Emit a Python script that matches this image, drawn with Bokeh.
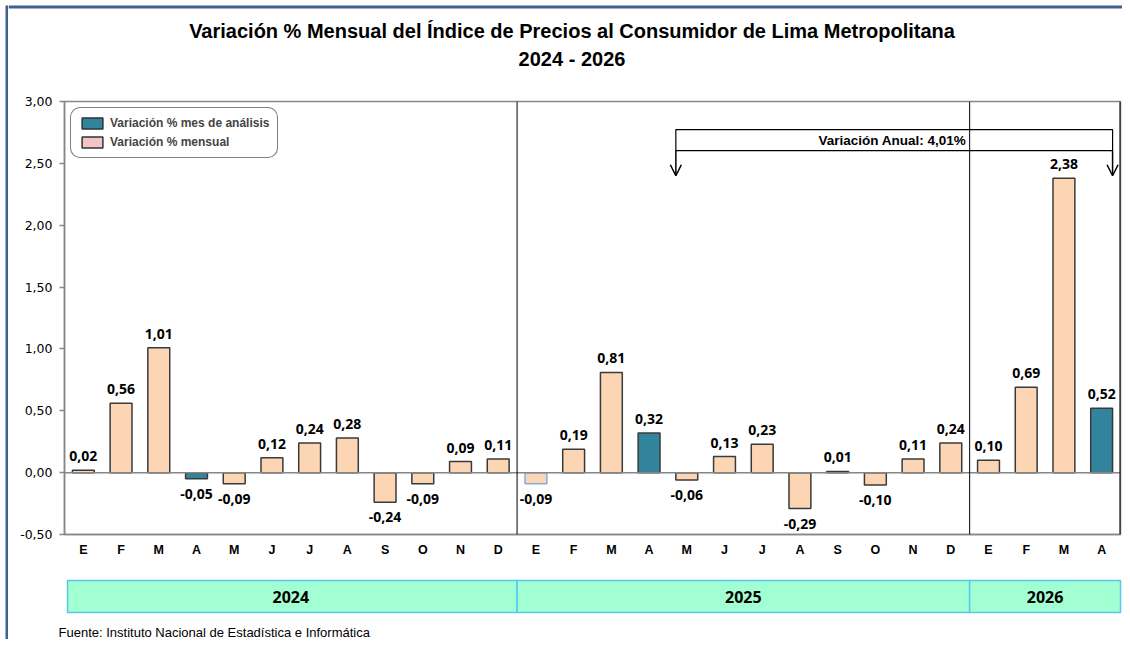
from bokeh.plotting import figure
from bokeh.layouts import row, column
from bokeh.models import (Range1d, FixedTicker, Span, Arrow, OpenHead, Legend, LegendItem,
                          ColumnDataSource, CustomJSTickFormatter)
from bokeh.core.properties import value
from bokeh.embed import file_html
from bokeh.resources import INLINE

# ---------------- data ----------------
months = ["E", "F", "M", "A", "M", "J", "J", "A", "S", "O", "N", "D"]
years = ["2024", "2025", "2026"]
months_per_year = [12, 12, 4]
values_2024 = [0.02, 0.56, 1.01, -0.05, -0.09, 0.12, 0.24, 0.28, -0.24, -0.09, 0.09, 0.11]
values_2025 = [-0.09, 0.19, 0.81, 0.32, -0.06, 0.13, 0.23, -0.29, 0.01, -0.10, 0.11, 0.24]
values_2026 = [0.10, 0.69, 2.38, 0.52]
analysis_month_index = 3  # April
y_ticks = [-0.5, 0.0, 0.5, 1.0, 1.5, 2.0, 2.5, 3.0]
legend_labels = ["Variación % mes de análisis", "Variación % mensual"]
annual_label = "Variación Anual:  4,01%"
title_line1 = "Variación % Mensual del Índice de Precios al Consumidor de Lima Metropolitana"
title_line2 = "2024 - 2026"
source_note = "Fuente: Instituto  Nacional de Estadística  e Informática"

# ---------------- styles ----------------
TEAL = "#31849B"
PEACH = "#FCD5B5"
PINK = "#F2C4C4"
GRAY = "#868686"
BAND_FILL = "#A2FFD2"
BAND_LINE = "#56C6F2"
FRAME_BLUE = "#3E6192"
FONT = "Liberation Sans"

values = values_2024 + values_2025 + values_2026
month_labels = []
month_idx = []
for n in months_per_year:
    month_labels += months[:n]
    month_idx += list(range(n))
N = len(values)
xs = [i + 0.5 for i in range(N)]
fills = [TEAL if m == analysis_month_index else PEACH for m in month_idx]
lines = ["#3a3a3a"] * N
lines[12] = "#8EA9DB"
texts = [("%.2f" % v).replace(".", ",") for v in values]
offs = [-14 if v >= 0 else 15 for v in values]

src = ColumnDataSource(dict(x=xs, top=values, fill=fills, line=lines, label=texts, off=offs))


def no_align(fig):
    if "frame_align" in fig.properties():
        fig.frame_align = False
    return fig


def panel(width, height, x_range, y_range):
    fig = figure(width=width, height=height, output_backend="svg", toolbar_location=None,
                 x_range=x_range, y_range=y_range,
                 x_axis_location=None, y_axis_location=None,
                 min_border=0, min_border_left=0, min_border_right=0,
                 min_border_top=0, min_border_bottom=0)
    fig.xgrid.visible = False
    fig.ygrid.visible = False
    fig.outline_line_color = None
    fig.background_fill_color = "white"
    fig.border_fill_color = "white"
    return no_align(fig)


# ---------------- left frame strip ----------------
strip = panel(8, 639, Range1d(0, 8), Range1d(639, 0))
strip.quad(left=[5], right=[8], top=[5], bottom=[639], fill_color=FRAME_BLUE, line_color=None)

# ---------------- title panel ----------------
tp = panel(1114, 90, Range1d(8, 1122), Range1d(90, 0))
tp.quad(left=[8], right=[1122], top=[5], bottom=[8], fill_color=FRAME_BLUE, line_color=None)
tp.text(x=[571.5, 571.5], y=[30, 58], text=[title_line1, title_line2],
        text_align="center", text_baseline="middle",
        text_font=value(FONT), text_font_style="bold", text_font_size="20px",
        text_color="black")

# ---------------- main chart ----------------
p = figure(width=1114, height=476, output_backend="svg", toolbar_location=None,
           x_range=Range1d(0, N), y_range=Range1d(-0.5, 3.0),
           min_border_left=56, min_border_right=2, min_border_top=11, min_border_bottom=32)
no_align(p)
p.background_fill_color = "white"
p.border_fill_color = "white"
p.outline_line_color = GRAY
p.outline_line_width = 1.5
p.xgrid.visible = False
p.ygrid.visible = False

p.yaxis.ticker = FixedTicker(ticks=y_ticks)
p.yaxis.formatter = CustomJSTickFormatter(code="return tick.toFixed(2).replace('.', ',');")
p.yaxis.axis_line_color = GRAY
p.yaxis.axis_line_width = 1.5
p.yaxis.major_tick_line_color = GRAY
p.yaxis.major_tick_line_width = 1.5
p.yaxis.major_tick_out = 5
p.yaxis.major_tick_in = 0
p.yaxis.minor_tick_line_color = None
p.yaxis.major_label_standoff = 7
p.yaxis.major_label_text_font = "DejaVu Sans"
p.yaxis.major_label_text_font_size = "12.5px"
p.yaxis.major_label_text_color = "black"

p.xaxis.ticker = FixedTicker(ticks=xs)
p.xaxis.formatter = CustomJSTickFormatter(args=dict(labels=month_labels),
                                          code="return labels[Math.floor(tick)];")
p.xaxis.axis_line_color = GRAY
p.xaxis.axis_line_width = 1.5
p.xaxis.major_tick_line_color = None
p.xaxis.major_tick_out = 0
p.xaxis.major_tick_in = 0
p.xaxis.minor_tick_line_color = None
p.xaxis.major_label_standoff = 8
p.xaxis.major_label_text_font = FONT
p.xaxis.major_label_text_font_style = "bold"
p.xaxis.major_label_text_font_size = "12.5px"
p.xaxis.major_label_text_color = "black"

p.add_layout(Span(location=0, dimension="width", line_color=GRAY, line_width=1.5))
cum = 0
for n in months_per_year[:-1]:
    cum += n
    p.add_layout(Span(location=cum, dimension="height", line_color="black", line_width=1))
p.add_layout(Span(location=N, dimension="height", line_color="black", line_width=2))

p.vbar(x="x", top="top", bottom=0, width=0.58, source=src,
       fill_color="fill", line_color="line", line_width=1.5)
p.text(x="x", y="top", text="label", y_offset="off", source=src,
       text_align="center", text_baseline="middle",
       text_font=value("Open Sans"), text_font_style="bold", text_font_size="14px",
       text_color="black")

# legend swatches (renderers placed outside the visible range)
r_a = p.vbar(x=[-5], top=[-5], bottom=[-5.1], width=0.5, fill_color=TEAL,
             line_color="#333333", line_width=1.5)
r_m = p.vbar(x=[-5], top=[-5], bottom=[-5.1], width=0.5, fill_color=PINK,
             line_color="#333333", line_width=1.5)
legend = Legend(items=[LegendItem(label=legend_labels[0], renderers=[r_a]),
                       LegendItem(label=legend_labels[1], renderers=[r_m])],
                location="top_left", margin=6, padding=8, spacing=5,
                glyph_width=26, glyph_height=14, label_standoff=5,
                label_height=14,
                label_text_font=FONT, label_text_font_style="bold",
                label_text_font_size="12px",
                border_line_color="black", border_line_width=1,
                background_fill_color="white", background_fill_alpha=1)
if "border_radius" in Legend.properties():
    legend.border_radius = 10
p.add_layout(legend)

# annual variation bracket
i0 = N - 12
i1 = N - 1
bl = i0 + 0.5 - 0.29
br = i1 + 0.5 + 0.29
box_bottom, box_top, tip = 2.603, 2.773, 2.40
p.quad(left=[bl], right=[br], bottom=[box_bottom], top=[box_top],
       fill_color="white", line_color="black", line_width=1.2)
p.text(x=[(bl + br) / 2], y=[(box_bottom + box_top) / 2], text=[annual_label],
       text_align="center", text_baseline="middle",
       text_font=value(FONT), text_font_style="bold", text_font_size="13.5px",
       text_color="black")
for xa in (bl, br):
    p.add_layout(Arrow(x_start=xa, y_start=box_bottom, x_end=xa, y_end=tip,
                       line_color="black", line_width=1.5,
                       end=OpenHead(size=11, line_color="black", line_width=1.5)))

# ---------------- bottom panel: year bands and source ----------------
px_per_cat = 1056 / N
bp = panel(1114, 73, Range1d((8 - 64) / px_per_cat, (1122 - 64) / px_per_cat),
           Range1d(639, 566))
lefts, rights, centers = [], [], []
start = 0
for n in months_per_year:
    lefts.append(start if start > 0 else 0.08)
    rights.append(start + n)
    centers.append(start + n / 2)
    start += n
bp.quad(left=lefts, right=rights, top=580, bottom=612,
        fill_color=BAND_FILL, line_color=BAND_LINE, line_width=1.5)
bp.text(x=centers, y=[596] * len(years), text=years,
        text_align="center", text_baseline="middle",
        text_font=value("Open Sans"), text_font_style="bold", text_font_size="16px",
        text_color="black")
bp.text(x=[(58 - 64) / px_per_cat], y=[632], text=[source_note],
        text_align="left", text_baseline="middle",
        text_font=value(FONT), text_font_size="13px", text_color="black")

layout = row(strip, column(tp, p, bp, spacing=0), spacing=0)
open("out.html", "w").write(file_html(layout, INLINE))
